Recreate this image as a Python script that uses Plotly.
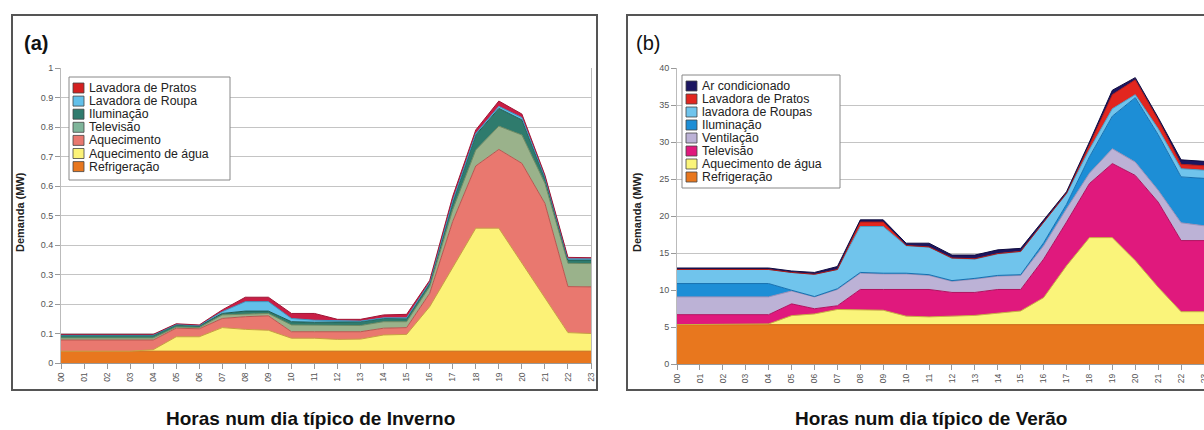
import plotly.graph_objects as go

W, H = 1204, 430

hours = [f"{h:02d}" for h in range(24)]

# ---------- Winter (a) : MW per end use (stack increments) ----------
w_refrig = [0.04] * 24
w_agua = [0, 0, 0, 0, 0.005, 0.049, 0.049, 0.08, 0.074, 0.071, 0.044, 0.044,
          0.040, 0.041, 0.055, 0.057, 0.151, 0.286, 0.417, 0.417, 0.298, 0.179, 0.063, 0.060]
w_aquec = [0.038, 0.038, 0.038, 0.038, 0.033, 0.029, 0.027, 0.031, 0.043, 0.049, 0.022, 0.022,
           0.026, 0.025, 0.023, 0.023, 0.045, 0.154, 0.211, 0.267, 0.339, 0.322, 0.156, 0.158]
w_tv = [0.007, 0.007, 0.007, 0.007, 0.007, 0.004, 0.004, 0.012, 0.008, 0.008, 0.023, 0.023,
        0.023, 0.021, 0.022, 0.020, 0.023, 0.040, 0.054, 0.079, 0.096, 0.068, 0.079, 0.079]
w_ilum = [0.009, 0.009, 0.009, 0.009, 0.009, 0.008, 0.006, 0.005, 0.011, 0.008, 0.011, 0.009,
          0.011, 0.013, 0.011, 0.010, 0.011, 0.025, 0.051, 0.060, 0.051, 0.017, 0.011, 0.012]
w_roupa = [0.001, 0.001, 0.001, 0.001, 0.001, 0.001, 0.001, 0.006, 0.032, 0.032, 0.011, 0.007,
           0.003, 0.002, 0.002, 0.003, 0.003, 0.005, 0.005, 0.007, 0.008, 0.004, 0.004, 0.004]
w_pratos = [0.002, 0.002, 0.002, 0.002, 0.002, 0.002, 0.002, 0.006, 0.015, 0.015, 0.017, 0.023,
            0.005, 0.006, 0.010, 0.012, 0.007, 0.015, 0.012, 0.018, 0.012, 0.007, 0.005, 0.004]

w_names = ["Refrigeração", "Aquecimento de água", "Aquecimento", "Televisão",
           "Iluminação", "Lavadora de Roupa", "Lavadora de Pratos"]
w_fill = ["#E8771E", "#FCF277", "#E9786F", "#9AB28B", "#2F7B6D", "#62C0EA", "#C81E45"]
w_line = ["#C8600F", "#C8A040", "#B8554F", "#6E8A62", "#1E5A4F", "#3A95C0", "#A01535"]
w_legend_sw = ["#E8771E", "#FCF277", "#E9786F", "#7FB59A", "#2F7B6D", "#62C0EA", "#D42020"]

# ---------- Summer (b) ----------
s_refrig = [5.35] * 24
s_agua = [0, 0, 0, 0, 0.1, 1.22, 1.45, 2.05, 2.05, 1.95, 1.15, 1.05,
          1.15, 1.25, 1.55, 1.85, 3.65, 7.95, 11.75, 11.75, 8.65, 5.05, 1.75, 1.75]
s_tv = [1.35, 1.35, 1.35, 1.35, 1.25, 1.59, 0.7, 0.5, 2.7, 2.8, 3.6, 3.7,
        3.2, 3.1, 3.2, 2.9, 5.2, 5.9, 7.3, 10.0, 11.5, 11.5, 9.6, 9.6]
s_vent = [2.4, 2.4, 2.4, 2.4, 2.4, 1.74, 1.6, 2.2, 2.2, 2.1, 2.1, 1.9,
          1.5, 1.8, 1.8, 1.9, 1.8, 1.8, 1.4, 2.0, 1.8, 1.6, 2.4, 2.0]
s_ilum = [1.8, 1.8, 1.8, 1.8, 1.8, 0.1, 0.05, 0.1, 0.1, 0.1, 0.1, 0.1,
          0.1, 0.1, 0.1, 0.1, 0.4, 0.6, 2.2, 4.4, 8.7, 7.5, 6.2, 6.4]
s_roupas = [1.9, 1.9, 1.9, 1.9, 1.9, 2.4, 3.0, 2.6, 6.2, 6.3, 3.7, 3.7,
            3.0, 2.6, 2.9, 3.1, 2.8, 1.4, 1.0, 1.0, 0.4, 0.8, 1.1, 1.1]
s_pratos = [0, 0, 0, 0, 0, 0, 0, 0, 0.6, 0.6, 0.05, 0.05,
            0.05, 0.05, 0.05, 0.05, 0, 0.1, 0.6, 1.9, 2.0, 1.2, 0.6, 0.6]
s_ar = [0.2, 0.2, 0.2, 0.2, 0.2, 0.2, 0.25, 0.4, 0.3, 0.3, 0.3, 0.5,
        0.4, 0.5, 0.5, 0.4, 0.2, 0.2, 0.4, 0.6, 0.3, 0.3, 0.6, 0.6]

s_names = ["Refrigeração", "Aquecimento de água", "Televisão", "Ventilação",
           "Iluminação", "lavadora de Roupas", "Lavadora de Pratos", "Ar condicionado"]
s_fill = ["#E8771E", "#FAF47A", "#E0197D", "#BCB2D6", "#1D8ED6", "#70C4EC", "#E2261F", "#1C1660"]
s_line = ["#C8600F", "#C8B040", "#B0105F", "#9A90B8", "#1670B0", "#4AA0CC", "#B01A15", "#100C40"]

w_series = [w_refrig, w_agua, w_aquec, w_tv, w_ilum, w_roupa, w_pratos]
s_series = [s_refrig, s_agua, s_tv, s_vent, s_ilum, s_roupas, s_pratos, s_ar]

FONT = "Liberation Sans, Arial, sans-serif"

fig = go.Figure()
for vals, nm, fc, lc in zip(w_series, w_names, w_fill, w_line):
    fig.add_trace(go.Scatter(x=hours, y=vals, name=nm, stackgroup="w", mode="lines",
                             fillcolor=fc, line=dict(color=lc, width=1),
                             xaxis="x", yaxis="y", showlegend=False))
for vals, nm, fc, lc in zip(s_series, s_names, s_fill, s_line):
    fig.add_trace(go.Scatter(x=hours, y=vals, name=nm, stackgroup="s", mode="lines",
                             fillcolor=fc, line=dict(color=lc, width=1),
                             xaxis="x2", yaxis="y2", showlegend=False))


def px(x):
    return x / W


def py(y):
    return 1 - y / H


xax = dict(type="category", range=[0, 23], tickangle=-90, showgrid=False,
           tickfont=dict(size=8.5, color="#555", family=FONT), ticks="outside",
           ticklen=5, tickcolor="#999", showline=True, linecolor="#999",
           automargin=False, fixedrange=True)
yax = dict(showgrid=True, gridcolor="#C4C4C4", gridwidth=1, zeroline=False,
           tickfont=dict(size=9, color="#555", family=FONT), ticks="outside",
           ticklen=5, tickcolor="#999", showline=True, linecolor="#BBB", mirror=True,
           automargin=False, fixedrange=True)

fig.update_layout(
    width=W, height=H,
    margin=dict(l=0, r=0, t=0, b=0),
    paper_bgcolor="white", plot_bgcolor="white",
    font=dict(family=FONT),
    xaxis=dict(xax, domain=[px(61), px(591)], anchor="y"),
    yaxis=dict(yax, domain=[py(363), py(68)], range=[0, 1], dtick=0.1, anchor="x"),
    xaxis2=dict(xax, domain=[px(677), 1.0], anchor="y2"),
    yaxis2=dict(yax, domain=[py(364.3), py(68)], range=[0, 40], dtick=5, anchor="x2"),
)

shapes = []
annotations = []
# outer frames
shapes.append(dict(type="rect", xref="paper", yref="paper", x0=px(12), x1=px(597),
                   y0=py(390), y1=py(15), line=dict(color="#555", width=2)))
shapes.append(dict(type="rect", xref="paper", yref="paper", x0=px(627), x1=px(1215),
                   y0=py(390), y1=py(15), line=dict(color="#555", width=2)))

# panel letters
annotations.append(dict(text="<b>(a)</b>", x=px(22), y=py(43), xref="paper", yref="paper",
                        xanchor="left", yanchor="middle", showarrow=False,
                        font=dict(size=20, color="#111", family=FONT)))
annotations.append(dict(text="(b)", x=px(634), y=py(43), xref="paper", yref="paper",
                        xanchor="left", yanchor="middle", showarrow=False,
                        font=dict(size=20, color="#111", family=FONT)))

# y titles
for xx in (20, 637):
    annotations.append(dict(text="<b>Demanda (MW)</b>", x=px(xx), y=py(212), xref="paper",
                            yref="paper", textangle=-90, showarrow=False,
                            xanchor="center", yanchor="middle",
                            font=dict(size=11, color="#222", family=FONT)))

# x titles
annotations.append(dict(text="<b>Horas num dia típico de Inverno</b>", x=px(310), y=py(418),
                        xref="paper", yref="paper", showarrow=False,
                        xanchor="center", yanchor="middle",
                        font=dict(size=19, color="#111", family=FONT)))
annotations.append(dict(text="<b>Horas num dia típico de Verão</b>", x=px(931), y=py(418),
                        xref="paper", yref="paper", showarrow=False,
                        xanchor="center", yanchor="middle",
                        font=dict(size=19, color="#111", family=FONT)))


def legend(names, colors, box, first_y, step, sw_x, tx_x):
    x0, y0, x1, y1 = box
    shapes.append(dict(type="rect", xref="paper", yref="paper", x0=px(x0), x1=px(x1),
                       y0=py(y1), y1=py(y0), line=dict(color="#888", width=1),
                       fillcolor="white"))
    for i, (nm, c) in enumerate(zip(names, colors)):
        cy = first_y + i * step
        shapes.append(dict(type="rect", xref="paper", yref="paper",
                           x0=px(sw_x), x1=px(sw_x + 11), y0=py(cy + 5), y1=py(cy - 5),
                           line=dict(color="#444", width=0.8), fillcolor=c))
        annotations.append(dict(text=nm, x=px(tx_x), y=py(cy), xref="paper", yref="paper",
                                xanchor="left", yanchor="middle", showarrow=False,
                                font=dict(size=12.3, color="#222", family=FONT)))


legend(w_names[::-1], w_legend_sw[::-1], (69, 77, 230, 180), 88, 13.1, 73, 87)
legend(s_names[::-1], s_fill[::-1], (682, 75, 840, 188), 86, 13.0, 686, 700)

fig.update_layout(shapes=shapes, annotations=annotations)
fig.write_html("out.html", config={"displayModeBar": False})
